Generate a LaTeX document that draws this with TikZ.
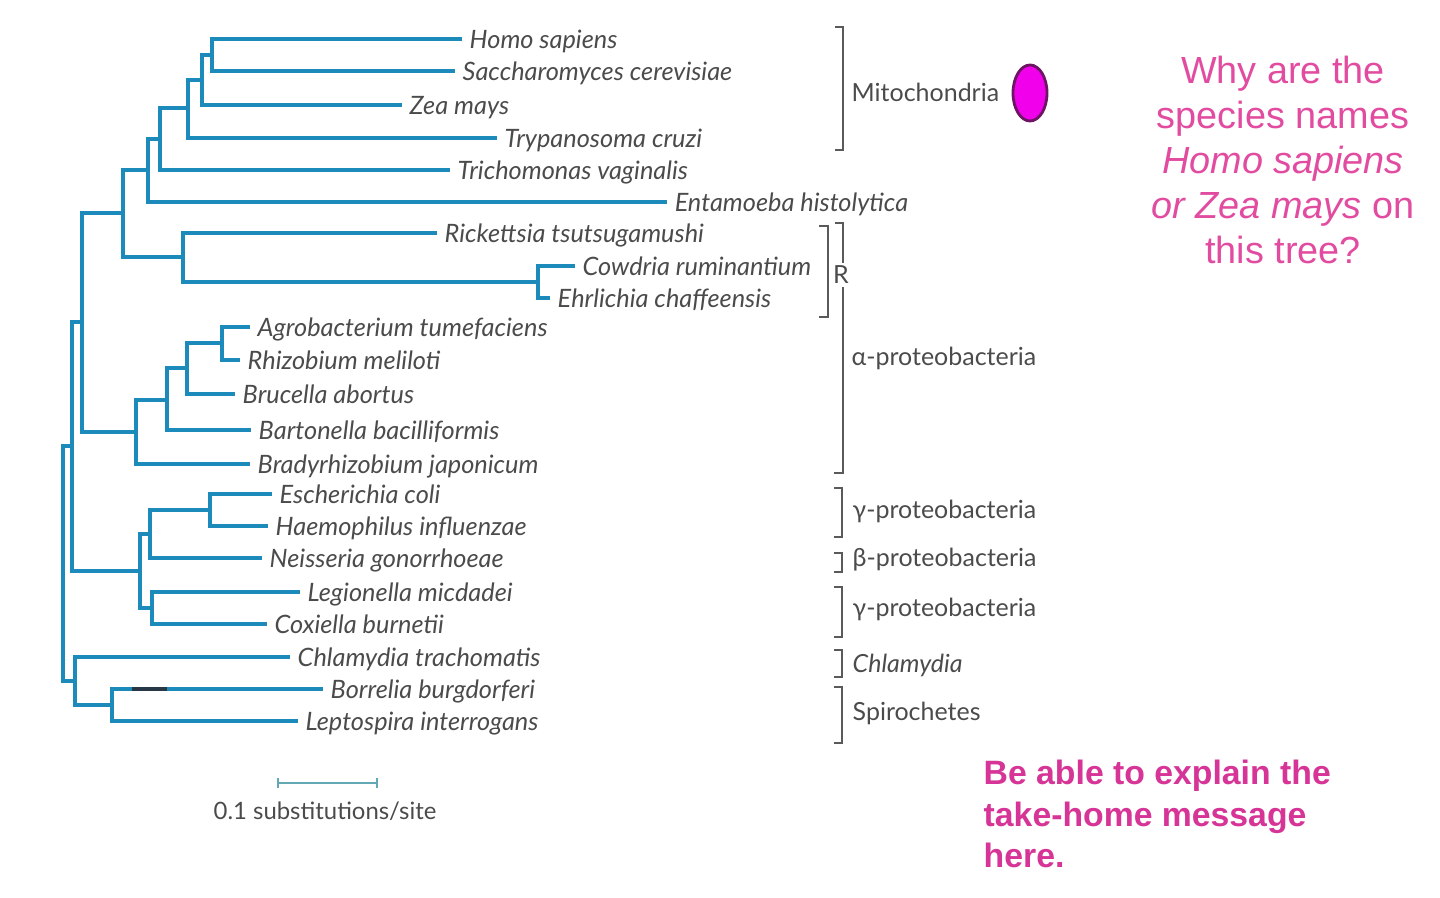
\documentclass[tikz,border=0pt]{standalone}
\usepackage{fontspec}
\setmainfont{Lato}
\newfontfamily\qfont{Liberation Sans}
\usetikzlibrary{shapes.geometric}

\definecolor{treeblue}{RGB}{28,138,186}
\definecolor{labelgray}{RGB}{75,75,75}
\definecolor{bracketgray}{RGB}{90,90,90}
\definecolor{qpink}{RGB}{226,76,160}
\definecolor{msgpink}{RGB}{214,52,150}
\definecolor{mitofill}{RGB}{240,0,235}
\definecolor{mitodraw}{RGB}{110,20,100}
\definecolor{scaleblue}{RGB}{100,168,182}
\definecolor{darkmark}{RGB}{40,55,70}

\begin{document}
\begin{tikzpicture}[x=0.01cm,y=-0.01cm,
  species/.style={anchor=west,inner sep=2pt,text=labelgray,
                  font=\fontsize{7.2}{8}\selectfont\itshape,
                  text height=5.2pt,text depth=0pt},
  branch/.style={draw=treeblue,line width=1pt},
  groupbr/.style={draw=bracketgray,line width=0.6pt},
  grouplabel/.style={anchor=west,inner sep=0pt,text=labelgray,
                     font=\fontsize{7.1}{8}\selectfont},
]
\useasboundingbox (0,0) rectangle (1440,898);

% Leaves: mitochondria and eukaryote-hosted
\node[species] (hs)  at (462,39)  {Homo sapiens};
\node[species] (sc)  at (455,71)  {Saccharomyces cerevisiae};
\node[species] (zm)  at (402,105) {Zea mays};
\node[species] (tc)  at (497,138) {Trypanosoma cruzi};
\node[species] (tv)  at (450,170) {Trichomonas vaginalis};
\node[species] (eh)  at (667,202) {Entamoeba histolytica};

% Leaves: Rickettsiales
\node[species] (rt)  at (437,233) {Rickettsia tsutsugamushi};
\node[species] (cr)  at (575,266) {Cowdria ruminantium};
\node[species] (ehr) at (550,298) {Ehrlichia chaffeensis};

% Leaves: other alpha-proteobacteria
\node[species] (at)  at (250,327) {Agrobacterium tumefaciens};
\node[species] (rm)  at (240,360) {Rhizobium meliloti};
\node[species] (ba)  at (235,394) {Brucella abortus};
\node[species] (bb)  at (251,430) {Bartonella bacilliformis};
\node[species] (bj)  at (250,464) {Bradyrhizobium japonicum};

% Leaves: beta/gamma-proteobacteria
\node[species] (eco) at (272,494) {Escherichia coli};
\node[species] (hi)  at (268,526) {Haemophilus influenzae};
\node[species] (ng)  at (262,558) {Neisseria gonorrhoeae};
\node[species] (lm)  at (300,592) {Legionella micdadei};
\node[species] (cb)  at (267,624) {Coxiella burnetii};

% Leaves: outgroups
\node[species] (ct)  at (290,657) {Chlamydia trachomatis};
\node[species] (bbu) at (323,689) {Borrelia burgdorferi};
\node[species] (li)  at (298,721) {Leptospira interrogans};

% Internal nodes
\coordinate (nHS)  at (212,55);
\coordinate (nZ)   at (202,80);
\coordinate (nT)   at (188,108);
\coordinate (nTv)  at (160,139);
\coordinate (nE)   at (148,170);
\coordinate (nCE)  at (538,282);
\coordinate (nRk)  at (183,257);
\coordinate (nM)   at (123,213);
\coordinate (nAR)  at (222,343);
\coordinate (nBr)  at (187,368);
\coordinate (nBa)  at (167,400);
\coordinate (nAl)  at (136,432);
\coordinate (nMA)  at (82,322);
\coordinate (nEH)  at (210,510);
\coordinate (nNg)  at (150,534);
\coordinate (nLC)  at (152,608);
\coordinate (nGB)  at (140,571);
\coordinate (nPr)  at (72,446);
\coordinate (nSp)  at (112,705);
\coordinate (nCS)  at (75,681);
\coordinate (root) at (63,563);

% Branches
\draw[branch] (hs.west) -| (nHS) |- (sc.west);
\draw[branch] (nHS) -| (nZ) |- (zm.west);
\draw[branch] (nZ) -| (nT) |- (tc.west);
\draw[branch] (nT) -| (nTv) |- (tv.west);
\draw[branch] (nTv) -| (nE) |- (eh.west);
\draw[branch] (cr.west) -| (nCE) |- (ehr.west);
\draw[branch] (rt.west) -| (nRk) |- (nCE);
\draw[branch] (nE) -| (nM) |- (nRk);
\draw[branch] (at.west) -| (nAR) |- (rm.west);
\draw[branch] (nAR) -| (nBr) |- (ba.west);
\draw[branch] (nBr) -| (nBa) |- (bb.west);
\draw[branch] (nBa) -| (nAl) |- (bj.west);
\draw[branch] (nM) -| (nMA) |- (nAl);
\draw[branch] (eco.west) -| (nEH) |- (hi.west);
\draw[branch] (nEH) -| (nNg) |- (ng.west);
\draw[branch] (lm.west) -| (nLC) |- (cb.west);
\draw[branch] (nNg) -| (nGB) |- (nLC);
\draw[branch] (nMA) -| (nPr) |- (nGB);
\draw[branch] (bbu.west) -| (nSp) |- (li.west);
\draw[branch] (ct.west) -| (nCS) |- (nSp);
\draw[branch] (nPr) -| (root) |- (nCS);
\draw[darkmark,line width=1pt] (132,689) -- (167,689);

% Group brackets
\draw[groupbr] (835,27) -- (843,27) -- (843,150) -- (835,150);
\node[grouplabel] (mito) at (851,92) {Mitochondria};
\draw[groupbr] (819,226) -- (828,226) -- (828,317) -- (819,317);
\draw[groupbr] (835,223) -- (843,223) -- (843,473) -- (834,473);
\node[fill=white,inner sep=1pt,text=labelgray,
      font=\fontsize{7.1}{8}\selectfont] (rlab) at (841,275) {R};
\node[grouplabel] (alpha) at (851,358) {α-proteobacteria};
\draw[groupbr] (834,488) -- (842,488) -- (842,537) -- (834,537);
\node[grouplabel] (gamma1) at (852,511) {γ-proteobacteria};
\draw[groupbr] (834,553) -- (842,553) -- (842,572) -- (834,572);
\node[grouplabel] (beta) at (852,560) {β-proteobacteria};
\draw[groupbr] (834,587) -- (842,587) -- (842,637) -- (834,637);
\node[grouplabel] (gamma2) at (852,609) {γ-proteobacteria};
\draw[groupbr] (834,650) -- (842,650) -- (842,677) -- (834,677);
\node[grouplabel,font=\fontsize{7.1}{8}\selectfont\itshape] (chlam) at (852,665) {Chlamydia};
\draw[groupbr] (834,687) -- (842,687) -- (842,743) -- (834,743);
\node[grouplabel] (spiro) at (852,713) {Spirochetes};

% Scale bar
\draw[scaleblue,line width=0.5pt] (278,778) -- (278,788) (278,783) -- (377,783) (377,778) -- (377,788);
\node[text=labelgray,font=\fontsize{6.8}{8}\selectfont] (scalelab) at (325,811) {0.1 substitutions/site};

% Mitochondrion marker
\node[ellipse,draw=mitodraw,fill=mitofill,line width=0.8pt,inner sep=0pt,
      minimum width=0.34cm,minimum height=0.56cm] (mitoblob) at (1030,93) {};

% Notes
\node[font=\qfont\fontsize{10.75}{12.8}\selectfont,text=qpink,align=center] (question) at (1283,160)
  {Why are the\\species names\\\textit{Homo sapiens}\\\textit{or Zea mays} on\\this tree?};
\node[font=\qfont\bfseries\fontsize{9.6}{11.7}\selectfont,text=msgpink,align=left,
      anchor=west,inner sep=0pt] (message) at (983,814)
  {Be able to explain the\\take-home message\\here.};

\end{tikzpicture}
\end{document}
